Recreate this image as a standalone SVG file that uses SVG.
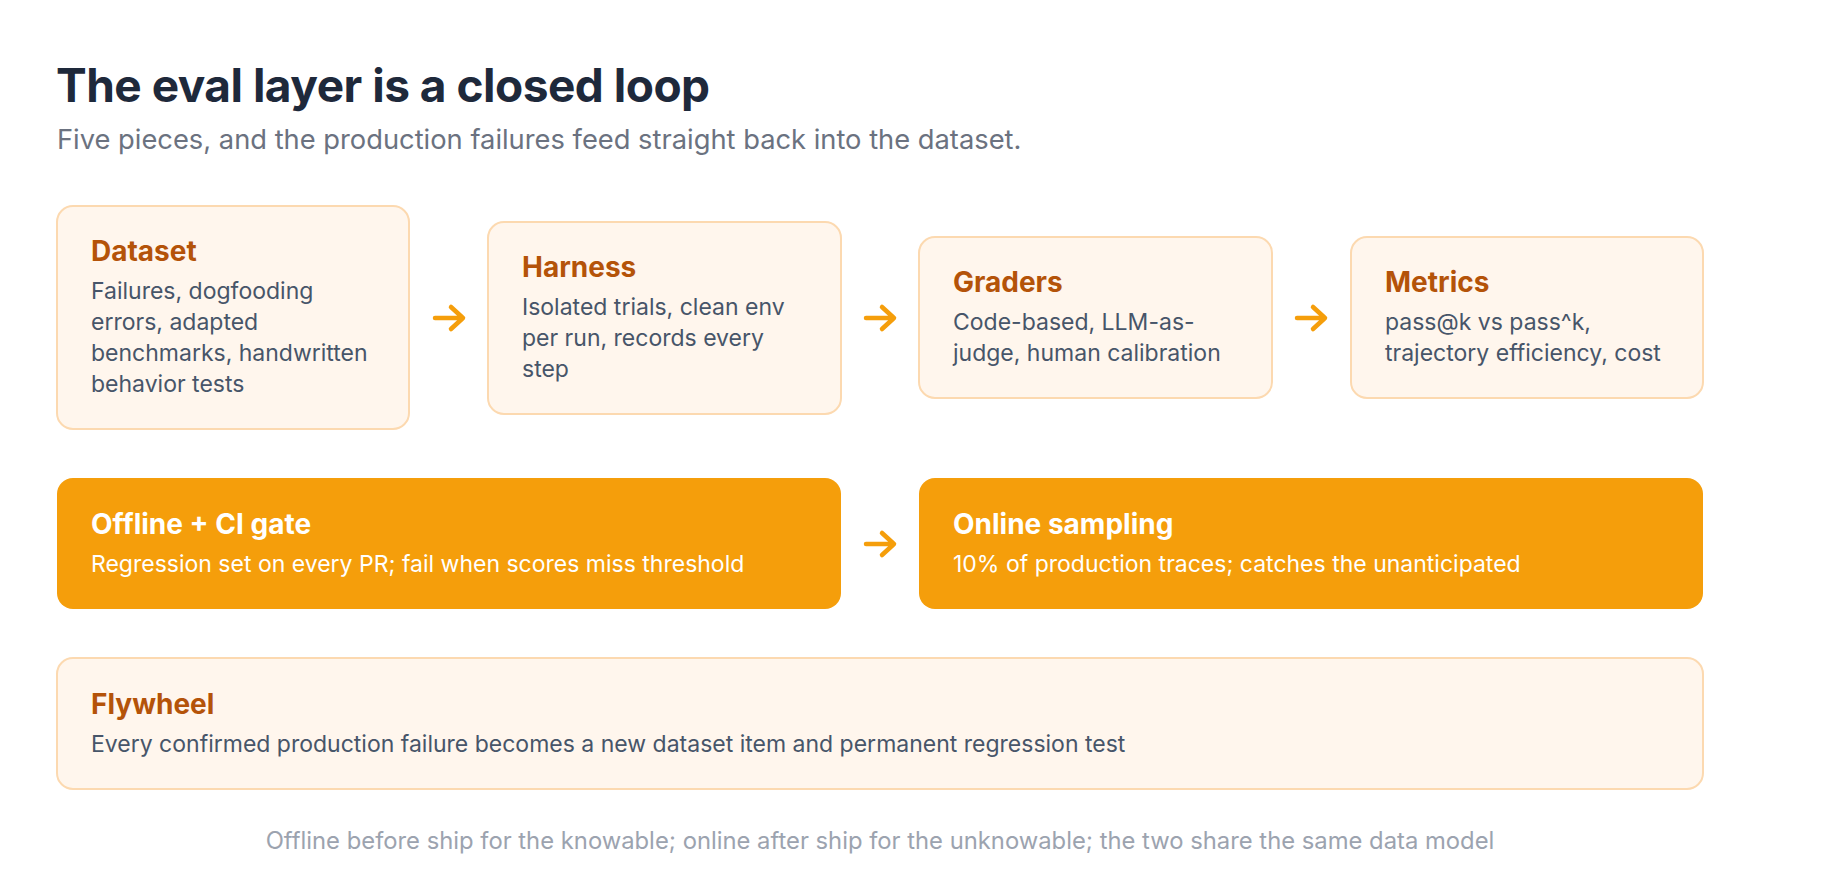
<svg xmlns="http://www.w3.org/2000/svg" width="1840" height="870" viewBox="0 0 1840 870">
  <style>
    text { font-family: Inter, "Noto Sans", "Liberation Sans", sans-serif; }
    .h1 { font-size: 46px; font-weight: 700; fill: #1e293b; letter-spacing: -0.5px; }
    .sub { font-size: 27.3px; fill: #6b7280; }
    .card { fill: #fff6ed; stroke: #fcd9b0; stroke-width: 2; }
    .solid { fill: #f59e0b; }
    .ttl { font-size: 28px; font-weight: 700; fill: #b45309; }
    .body { font-size: 23px; fill: #475569; }
    .ttlw { font-size: 28px; font-weight: 700; fill: #ffffff; }
    .bodyw { font-size: 23px; fill: #ffffff; }
    .foot { font-size: 23.8px; fill: #9ca3af; }
    .arrow { fill: none; stroke: #f59e0b; stroke-width: 4.5; stroke-linecap: round; stroke-linejoin: round; }
  </style>
  <rect width="1840" height="870" fill="#ffffff"/>

  <g id="header">
    <text class="h1" x="56" y="102">The eval layer is a closed loop</text>
    <text class="sub" x="57" y="149">Five pieces, and the production failures feed straight back into the dataset.</text>
  </g>

  <g id="dataset">
    <rect class="card" x="57" y="206" width="352" height="223" rx="16"/>
    <text class="ttl" x="91" y="261">Dataset</text>
    <text class="body" x="91" y="299">Failures, dogfooding</text>
    <text class="body" x="91" y="330">errors, adapted</text>
    <text class="body" x="91" y="361">benchmarks, handwritten</text>
    <text class="body" x="91" y="392">behavior tests</text>
  </g>

  <g id="harness">
    <rect class="card" x="488" y="222" width="353" height="192" rx="16"/>
    <text class="ttl" x="522" y="277">Harness</text>
    <text class="body" x="522" y="315">Isolated trials, clean env</text>
    <text class="body" x="522" y="346">per run, records every</text>
    <text class="body" x="522" y="377">step</text>
  </g>

  <g id="graders">
    <rect class="card" x="919" y="237" width="353" height="161" rx="16"/>
    <text class="ttl" x="953" y="292">Graders</text>
    <text class="body" x="953" y="330">Code-based, LLM-as-</text>
    <text class="body" x="953" y="361">judge, human calibration</text>
  </g>

  <g id="metrics">
    <rect class="card" x="1351" y="237" width="352" height="161" rx="16"/>
    <text class="ttl" x="1385" y="292">Metrics</text>
    <text class="body" x="1385" y="330">pass@k vs pass^k,</text>
    <text class="body" x="1385" y="361">trajectory efficiency, cost</text>
  </g>

  <g id="offline">
    <rect class="solid" x="57" y="478" width="784" height="131" rx="16"/>
    <text class="ttlw" x="91" y="534">Offline + CI gate</text>
    <text class="bodyw" x="91" y="572">Regression set on every PR; fail when scores miss threshold</text>
  </g>

  <g id="online">
    <rect class="solid" x="919" y="478" width="784" height="131" rx="16"/>
    <text class="ttlw" x="953" y="534">Online sampling</text>
    <text class="bodyw" x="953" y="572">10% of production traces; catches the unanticipated</text>
  </g>

  <g id="flywheel">
    <rect class="card" x="57" y="658" width="1646" height="131" rx="16"/>
    <text class="ttl" x="91" y="714">Flywheel</text>
    <text class="body" x="91" y="752">Every confirmed production failure becomes a new dataset item and permanent regression test</text>
  </g>

  <g id="connectors">
    <path class="arrow" d="M435 318 H462 M451 307 L463 318 L451 329"/>
    <path class="arrow" d="M866 318 H893 M882 307 L894 318 L882 329"/>
    <path class="arrow" d="M1297 318 H1324 M1313 307 L1325 318 L1313 329"/>
    <path class="arrow" d="M866 544 H893 M882 533 L894 544 L882 555"/>
  </g>

  <g id="footer">
    <text class="foot" x="880" y="849" text-anchor="middle">Offline before ship for the knowable; online after ship for the unknowable; the two share the same data model</text>
  </g>
</svg>
